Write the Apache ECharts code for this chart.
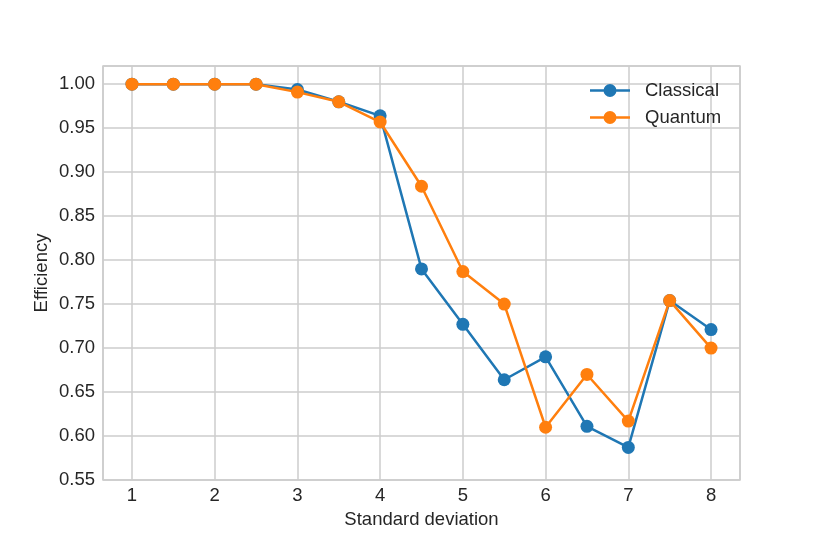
<!DOCTYPE html>
<html>
<head>
<meta charset="utf-8">
<script src="https://cdn.jsdelivr.net/npm/echarts@6/dist/echarts.min.js"></script>
<style>html,body{margin:0;padding:0;background:#fff}#c{width:822px;height:548px}</style>
</head>
<body>
<div id="c"></div>
<script>
const xValues = [1, 1.5, 2, 2.5, 3, 3.5, 4, 4.5, 5, 5.5, 6, 6.5, 7, 7.5, 8];
const classical = [1.0, 1.0, 1.0, 1.0, 0.994, 0.98, 0.964, 0.79, 0.727, 0.664, 0.69, 0.611, 0.587, 0.754, 0.721];
const quantum = [1.0, 1.0, 1.0, 1.0, 0.991, 0.98, 0.957, 0.884, 0.787, 0.75, 0.61, 0.67, 0.617, 0.754, 0.70];
const seriesNames = ['Classical', 'Quantum'];

const font = 'Liberation Sans, Arial, sans-serif';
const fs = 18.5;
const textColor = '#262626';
const gridColor = '#cccccc';
const legendIcon = 'path://M0,5.75h40v2.5h-40z M26.5,7a6.5,6.5 0 1,1 -13,0a6.5,6.5 0 1,1 13,0z';

const chart = echarts.init(document.getElementById('c'), null, {renderer: 'canvas'});
function pairs(ys) { return xValues.map((x, i) => [x, ys[i]]); }
chart.setOption({
  backgroundColor: '#ffffff',
  animation: false,
  textStyle: {fontFamily: font},
  grid: {left: 103, right: 82, top: 66, bottom: 68, show: true, borderColor: gridColor, borderWidth: 1.5, containLabel: false},
  legend: {
    orient: 'vertical', left: 585, top: 76, itemWidth: 40, itemHeight: 14, itemGap: 8,
    textStyle: {fontFamily: font, fontSize: fs, color: textColor, padding: [0, 0, 0, 10]},
    data: [
      {name: seriesNames[0], icon: legendIcon, itemStyle: {color: '#1f77b4'}},
      {name: seriesNames[1], icon: legendIcon, itemStyle: {color: '#ff7f0e'}}
    ]
  },
  xAxis: {
    type: 'value', min: 0.65, max: 8.35, splitNumber: 8,
    name: 'Standard deviation', nameLocation: 'middle', nameGap: 30, nameMoveOverlap: false,
    nameTextStyle: {fontFamily: font, fontSize: fs, color: textColor},
    axisLine: {show: false}, axisTick: {show: false},
    axisLabel: {fontFamily: font, fontSize: fs, color: textColor, margin: 6, showMinLabel: false, showMaxLabel: false,
      formatter: v => (Math.abs(v - Math.round(v)) < 1e-6 ? String(Math.round(v)) : '')},
    splitLine: {show: true, lineStyle: {color: gridColor, width: 1.5}}
  },
  yAxis: {
    type: 'value', min: 0.55, max: 1.0207, interval: 0.05,
    name: 'Efficiency', nameLocation: 'middle', nameGap: 52, nameRotate: 90, nameMoveOverlap: false,
    nameTextStyle: {fontFamily: font, fontSize: fs, color: textColor},
    axisLine: {show: false}, axisTick: {show: false},
    axisLabel: {fontFamily: font, fontSize: fs, color: textColor, margin: 8, showMaxLabel: false,
      formatter: v => v.toFixed(2)},
    splitLine: {show: true, lineStyle: {color: gridColor, width: 1.5}}
  },
  series: [
    {name: seriesNames[0], type: 'line', data: pairs(classical), symbol: 'circle', symbolSize: 13,
      itemStyle: {color: '#1f77b4'}, lineStyle: {color: '#1f77b4', width: 2.5}, z: 2},
    {name: seriesNames[1], type: 'line', data: pairs(quantum), symbol: 'circle', symbolSize: 13,
      itemStyle: {color: '#ff7f0e'}, lineStyle: {color: '#ff7f0e', width: 2.5}, z: 3}
  ]
});
</script>
</body>
</html>
